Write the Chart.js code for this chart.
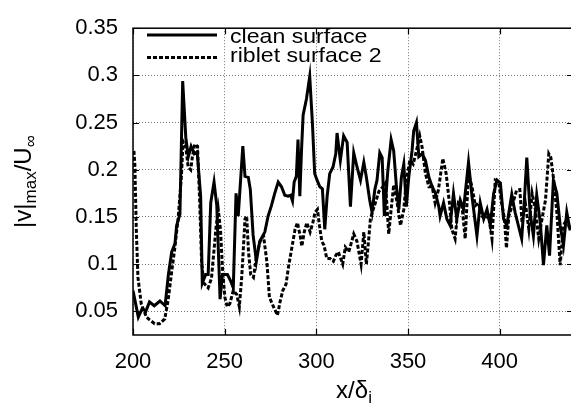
<!DOCTYPE html>
<html><head><meta charset="utf-8">
<script src="https://cdn.jsdelivr.net/npm/chart.js@4.4.0/dist/chart.umd.min.js"></script>
<style>
html,body{margin:0;padding:0;background:#fff;overflow:hidden;width:571px;height:405px}
#wrap{position:absolute;left:0;top:0;width:576px;height:405px}
</style>
</head><body><div id="wrap"><canvas id="c" width="576" height="405"></canvas></div>
<script>
const seriesNames = ['clean surface', 'riblet surface 2'];
const cleanX = [200,202.9,205,207,209,211.6,214.7,217.5,219.3,221.1,
222.9,223.8,225.6,227.1,228.8,230.2,231.7,233.5,235,236.9,
237.8,239.6,241,242.4,244.2,245.7,247.5,248.8,251.5,253.3,
254.7,256.2,257.4,259.9,261.1,262.9,264,265.5,267.3,269.1,
271.9,273.7,275.5,277.3,279.2,281,282.8,284.6,286,287,
287.9,289.1,290,291,291.9,292.8,294.6,296.4,297.9,299.1,
300.4,301.9,303.3,304.6,305.9,307.3,309.1,310.6,311.3,313.1,
314.9,316.8,318.6,320.4,322.2,324.1,325.9,327.3,329.1,330.4,
331.9,333.1,334.6,335.9,337.1,339,340.8,342.2,343.7,345,
346.4,347.7,349.1,350.4,352.2,353.1,354.6,355.9,357.7,359.5,
361.4,363.2,365,366.8,367.5,369.4,371.2,373,374.8,376.6,
378.5,380.3,383,384.9,387.6,389.4,391.3,393.1,394.9,396.7,
398.6,400.4,402.1,403.9,406.6,408.4,410.2,412,413.4,414.8,
416.6,418.4,420.2,422.1,423.9,425.7,427.2,429.3,431.2,433,
434.8,436.6,438.4];
const cleanY = [.072,.044,.053,.050,.060,.056,.061,.056,.089,.113,
.122,.141,.153,.294,.234,.214,.225,.217,.219,.172,
.080,.089,.089,.165,.187,.162,.063,.089,.089,.082,
.075,.175,.151,.225,.193,.192,.179,.131,.103,.124,
.134,.151,.162,.175,.187,.182,.173,.172,.173,.167,
.187,.193,.232,.172,.220,.258,.275,.299,.248,.196,
.189,.182,.180,.137,.172,.196,.203,.217,.239,.210,
.236,.229,.161,.218,.203,.189,.208,.192,.168,.155,
.179,.189,.218,.213,.151,.199,.232,.220,.182,.158,
.192,.206,.161,.192,.220,.241,.250,.214,.217,.210,
.192,.182,.175,.161,.151,.165,.148,.141,.175,.148,
.168,.158,.208,.172,.130,.165,.148,.158,.141,.175,
.189,.186,.148,.141,.174,.155,.141,.127,.165,.213,
.155,.130,.173,.145,.099,.141,.109,.189,.175,.141,
.120,.155,.136];
const ribletX = [200.5,201,201.8,202.7,204.5,207.3,209.1,211.8,214.5,217.3,
219.1,220.9,222.8,224.6,226.4,227.3,228.8,230.1,231.5,232.4,
233.7,235.2,236.4,237.4,238.6,241,242.8,245.2,246.5,247.7,
248.8,250.1,251.4,252.8,254.7,256.6,258,259.3,261.1,262,
263,264.2,265.7,267.5,269.3,271.2,273,274.4,276.6,278.8,
280.3,281.7,283.5,284.8,286.6,288.4,289.7,291.2,292.1,293.4,
294.8,296.6,298.1,299.3,300.6,301.7,303,304.2,305.7,307.5,
309.3,310.8,312,314.4,315.8,317.7,320.4,322.2,324.4,325.9,
327.3,328.6,329.5,331,332.2,334.1,335.9,337.7,339.5,340.8,
342.2,344.1,345.9,347.7,349.1,351,352.8,354.6,356.4,357.7,
359.5,361.4,363.2,364.8,366.6,369,370.8,372.6,373.9,375.7,
377.5,379.4,381.2,383,384.9,386.7,388.5,390.3,392.2,394,
395.8,397.6,399.5,400.8,402.6,403.7,405,406.8,409.2,411,
412.2,414,415.9,417.7,419.5,421.3,423.1,425,426.8,427.9,
429.3,431.2,433,434.8,436.6,438.4];
const ribletY = [.220,.206,.137,.086,.058,.044,.041,.037,.037,.042,
.061,.089,.117,.148,.193,.230,.224,.203,.200,.214,
.227,.225,.165,.103,.080,.075,.085,.137,.158,.137,
.096,.065,.055,.058,.072,.068,.055,.086,.148,.151,
.113,.089,.086,.110,.124,.130,.103,.065,.055,.046,
.061,.072,.079,.097,.117,.137,.144,.130,.119,.134,
.144,.134,.144,.155,.158,.141,.124,.120,.106,.106,
.103,.110,.113,.100,.118,.113,.132,.124,.100,.134,
.100,.127,.148,.158,.165,.177,.181,.186,.132,.158,
.184,.165,.141,.158,.189,.210,.206,.220,.236,.224,
.196,.182,.182,.165,.179,.212,.196,.165,.137,.127,
.165,.162,.127,.196,.182,.162,.165,.151,.148,.151,
.127,.189,.187,.168,.148,.117,.151,.162,.178,.179,
.144,.165,.137,.175,.158,.127,.148,.168,.217,.213,
.192,.155,.099,.141,.148,.136];
const xTicks = [200,250,300,350,400];
const xTickLabels = ['200','250','300','350','400'];
const yTicks = [0.05,0.1,0.15,0.2,0.25,0.3,0.35];
const yTickLabels = ['0.05','0.1','0.15','0.2','0.25','0.3','0.35'];

const FONT = '"Liberation Sans", Arial, Helvetica, sans-serif';
const toPts = (xs, ys) => xs.map((x, i) => ({x: x, y: ys[i]}));

const decor = {
  id: 'decor',
  afterDatasetsDraw(chart) {
    const {ctx, chartArea: a, scales: {x, y}} = chart;
    ctx.save();
    ctx.strokeStyle = '#000';
    ctx.lineWidth = 1.2;
    ctx.setLineDash([]);
    ctx.beginPath();
    xTicks.forEach(v => {
      const px = Math.round(x.getPixelForValue(v)) + 0.5;
      ctx.moveTo(px, a.bottom); ctx.lineTo(px, a.bottom - 6);
      ctx.moveTo(px, a.top); ctx.lineTo(px, a.top + 6);
    });
    yTicks.forEach(v => {
      const py = Math.round(y.getPixelForValue(v)) + 0.5;
      ctx.moveTo(a.left, py); ctx.lineTo(a.left + 6, py);
      ctx.moveTo(a.right, py); ctx.lineTo(a.right - 6, py);
    });
    ctx.stroke();
    ctx.lineWidth = 1.5;
    ctx.strokeRect(a.left, a.top, a.right - a.left, a.bottom - a.top);

    // legend
    ctx.lineWidth = 3;
    ctx.beginPath(); ctx.moveTo(147, 35); ctx.lineTo(217, 35); ctx.stroke();
    ctx.setLineDash([4, 2]);
    ctx.beginPath(); ctx.moveTo(147, 57.5); ctx.lineTo(217, 57.5); ctx.stroke();
    ctx.setLineDash([]);
    ctx.fillStyle = '#000';
    ctx.textBaseline = 'alphabetic';
    ctx.textAlign = 'left';
    const stretchText = (t, x0, y0, size, sx) => {
      ctx.save();
      ctx.font = size + 'px ' + FONT;
      ctx.translate(x0, y0);
      ctx.scale(sx, 1);
      ctx.fillText(t, 0, 0);
      ctx.restore();
    };
    stretchText(seriesNames[0], 230, 43, 21, 1.1);
    stretchText(seriesNames[1], 230, 62, 21, 1.1);

    // axis titles with subscripts
    const main = '24px ' + FONT, sub = '17px ' + FONT;
    const drawParts = (parts, cx, baseY, subDrop) => {
      let total = 0;
      parts.forEach(p => { ctx.font = p[1] ? sub : main; total += ctx.measureText(p[0]).width; });
      let cur = cx - total / 2;
      ctx.textBaseline = 'alphabetic';
      parts.forEach(p => {
        ctx.font = p[1] ? sub : main;
        ctx.fillText(p[0], cur, baseY + (p[1] ? subDrop : 0));
        cur += ctx.measureText(p[0]).width;
      });
    };
    drawParts([['x/δ', 0], ['i', 1]], (a.left + a.right) / 2 + 1, 398, 5);
    ctx.save();
    ctx.translate(31, (a.top + a.bottom) / 2);
    ctx.rotate(-Math.PI / 2);
    drawParts([['|v|', 0], ['max', 1], ['/U', 0], ['∞', 1]], 0, 0, 5);
    ctx.restore();
    ctx.restore();
  }
};

new Chart(document.getElementById('c'), {
  type: 'line',
  data: {
    datasets: [
      {label: seriesNames[1], data: toPts(ribletX, ribletY), borderColor: '#000', borderWidth: 3,
       borderDash: [4, 2], pointRadius: 0, tension: 0, fill: false, order: 0, borderCapStyle: 'butt'},
      {label: seriesNames[0], data: toPts(cleanX, cleanY), borderColor: '#000', borderWidth: 3,
       pointRadius: 0, tension: 0, fill: false, order: 1, borderJoinStyle: 'miter'}
    ]
  },
  options: {
    responsive: false,
    animation: false,
    devicePixelRatio: 1,
    layout: {padding: {top: 21, right: 3, left: 0, bottom: 0}},
    plugins: {legend: {display: false}, tooltip: {enabled: false}},
    scales: {
      x: {
        type: 'linear', min: 200, max: 440,
        afterFit: s => { s.height = 70; },
        afterBuildTicks: s => { s.ticks = xTicks.map(v => ({value: v})); },
        ticks: {callback: (v) => xTickLabels[xTicks.indexOf(v)] ?? '', color: '#000',
                font: {family: FONT, size: 22}, padding: 14, maxRotation: 0, autoSkip: false},
        grid: {color: '#777', drawTicks: false, lineWidth: 1},
        border: {display: false, dash: [1, 2]}
      },
      y: {
        type: 'linear', min: 0.025, max: 0.35,
        afterFit: s => { s.width = 133; },
        afterBuildTicks: s => { s.ticks = yTicks.map(v => ({value: v})); },
        ticks: {callback: (v) => { const i = yTicks.findIndex(t => Math.abs(t - v) < 1e-9); return i >= 0 ? yTickLabels[i] : ''; },
                color: '#000', font: {family: FONT, size: 22}, padding: 15, autoSkip: false},
        grid: {color: '#777', drawTicks: false, lineWidth: 1},
        border: {display: false, dash: [1, 2]}
      }
    }
  },
  plugins: [decor]
});
</script>
</body></html>
